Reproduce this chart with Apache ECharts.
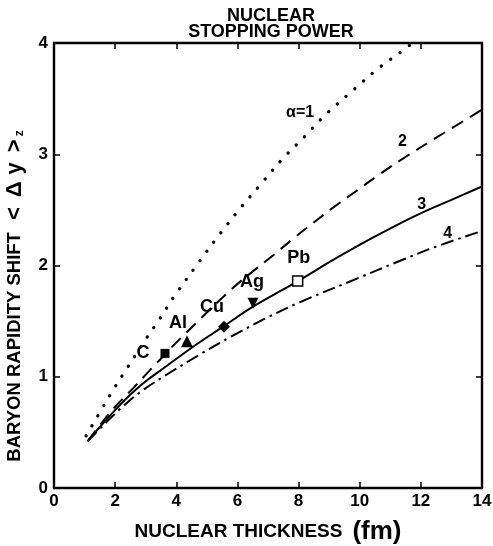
<!DOCTYPE html>
<html><head><meta charset="utf-8">
<script src="https://cdn.jsdelivr.net/npm/echarts@6/dist/echarts.min.js"></script>
<style>html,body{margin:0;padding:0;background:#fff}#c{width:493px;height:546px}</style>
</head><body><div id="c"></div>
<script>
// Curves: baryon rapidity shift vs nuclear thickness for alpha = 1..4
const alpha1X = [1.05, 1.67, 1.93, 2.42, 2.91, 3.43, 3.95, 4.74, 5.39, 6.11, 6.73, 7.48, 8.2, 8.86, 9.8, 10.65, 11.4, 11.73];
const alpha1Y = [0.47, 0.76, 0.88, 1.09, 1.30, 1.51, 1.73, 2.03, 2.27, 2.52, 2.72, 2.96, 3.16, 3.35, 3.58, 3.78, 3.93, 4.0];
const alpha2X = [1.1, 1.6, 2.0, 2.6, 3.14, 3.63, 3.9, 5.86, 7.16, 7.82, 8.37, 9.13, 9.89, 10.65, 11.52, 12.45, 14];
const alpha2Y = [0.42, 0.60, 0.73, 0.90, 1.06, 1.20, 1.28, 1.80, 2.09, 2.24, 2.36, 2.52, 2.67, 2.82, 2.98, 3.14, 3.40];
const alpha3X = [1.1, 1.6, 2.0, 2.5, 3.0, 3.5, 4.55, 5.53, 6.51, 7.98, 9.13, 10.43, 11.85, 13.0, 14];
const alpha3Y = [0.42, 0.58, 0.70, 0.84, 0.96, 1.06, 1.27, 1.45, 1.63, 1.86, 2.05, 2.25, 2.45, 2.59, 2.71];
const alpha4X = [1.1, 1.6, 2.16, 2.81, 3.69, 4.77, 5.85, 6.96, 8.04, 9.89, 11.3, 12.5, 14];
const alpha4Y = [0.42, 0.56, 0.71, 0.86, 1.02, 1.20, 1.37, 1.53, 1.67, 1.88, 2.04, 2.17, 2.31];
// Nuclei data points
const nuclei = ['C', 'Al', 'Cu', 'Ag', 'Pb'];
const nucleiX = [3.63, 4.35, 5.56, 6.51, 7.97];
const nucleiY = [1.21, 1.32, 1.45, 1.66, 1.86];
// Axis ticks
const xTicks = [0, 2, 4, 6, 8, 10, 12, 14];
const yTicks = [0, 1, 2, 3, 4];
// Curve labels
const curveLabels = ['α=1', '2', '3', '4'];

const zip = (a, b) => a.map((v, i) => [v, b[i]]);
const FONT = 'Liberation Sans';
const BLACK = '#000';

const symbols = ['rect', 'triangle', 'diamond', 'triangle', 'rect'];
const symRot = [0, 0, 0, 180, 0];
const symSize = [9, 12, 12, 11, 10];
const labelOffsets = [[-22, 0], [-9, -18], [-12, -20], [-1, -21], [1, -23]];

const nucleiData = nuclei.map((n, i) => ({
  name: n,
  value: [nucleiX[i], nucleiY[i]],
  symbol: symbols[i],
  symbolRotate: symRot[i],
  symbolSize: symSize[i],
  itemStyle: n === 'Pb' ? { color: '#fff', borderColor: BLACK, borderWidth: 1.5, opacity: 1 } : { color: BLACK, opacity: 1 },
  label: { show: true, formatter: n, offset: labelOffsets[i], position: 'inside' }
}));

const annotPos = [[8.05, 3.37], [11.4, 3.11], [12.03, 2.55], [12.88, 2.29]];
const annotData = curveLabels.map((t, i) => ({ value: annotPos[i], label: { formatter: t } }));

const axisCommon = {
  min: 0,
  axisLine: { show: true, onZero: false, lineStyle: { color: BLACK, width: 2.4 } },
  axisTick: { show: true, inside: true, length: 6, lineStyle: { color: BLACK, width: 1.5 } },
  splitLine: { show: false }
};

const lineCommon = { type: 'line', smooth: 0.35, showSymbol: false, silent: true };

const yNameTok = { fontFamily: FONT, fontWeight: 'bold', fontSize: 18.5, color: BLACK };
const symTok = (pl) => ({ fontFamily: FONT, fontWeight: 'bold', fontSize: 22, color: BLACK, padding: [0, 0, 0, pl] });

const chart = echarts.init(document.getElementById('c'), null, { renderer: 'canvas' });
chart.setOption({
  animation: false,
  backgroundColor: '#fff',
  textStyle: { fontFamily: FONT },
  grid: { left: 54, right: 11, top: 43, bottom: 58, containLabel: false, outerBoundsMode: 'none' },
  graphic: [
    {
      type: 'text', x: 271, y: 8,
      style: {
        text: 'NUCLEAR\nSTOPPING POWER', align: 'center', verticalAlign: 'top',
        font: 'bold 18px "' + FONT + '"', lineHeight: 16, fill: BLACK
      }
    },
    {
      type: 'text', x: 15, y: 296, rotation: Math.PI / 2,
      style: {
        text: '{a|BARYON RAPIDITY SHIFT}{lt|<}{d|Δ}{y|y}{gt|>}{s|z}',
        align: 'center', verticalAlign: 'middle',
        rich: {
          a: yNameTok,
          lt: symTok(12),
          d: symTok(10),
          y: symTok(7),
          gt: symTok(10),
          s: { fontFamily: FONT, fontWeight: 'bold', fontSize: 12, color: BLACK, padding: [10, 0, 0, 3] }
        }
      }
    }
  ],
  xAxis: [
    Object.assign({}, axisCommon, {
      type: 'value', position: 'bottom', max: 14, interval: 2,
      axisLabel: { color: BLACK, fontSize: 17, fontWeight: 'bold', fontFamily: FONT, margin: 5,
        formatter: v => xTicks.includes(v) ? String(v) : '' },
      name: '{a|NUCLEAR THICKNESS}   {b|(fm)}', nameLocation: 'middle', nameGap: 31,
      nameTextStyle: {
        rich: {
          a: { fontFamily: FONT, fontWeight: 'bold', fontSize: 19, color: BLACK },
          b: { fontFamily: FONT, fontWeight: 'bold', fontSize: 26, color: BLACK }
        }
      }
    }),
    Object.assign({}, axisCommon, {
      type: 'value', position: 'top', max: 14, interval: 2, axisLabel: { show: false }
    })
  ],
  yAxis: [
    Object.assign({}, axisCommon, {
      type: 'value', position: 'left', max: 4, interval: 1,
      axisLabel: { color: BLACK, fontSize: 17, fontWeight: 'bold', fontFamily: FONT, margin: 6,
        formatter: v => yTicks.includes(v) ? String(v) : '' }
    }),
    Object.assign({}, axisCommon, {
      type: 'value', position: 'right', max: 4, interval: 1, axisLabel: { show: false }
    })
  ],
  series: [
    Object.assign({}, lineCommon, { name: 'α=1', data: zip(alpha1X, alpha1Y),
      lineStyle: { color: BLACK, width: 3.3, type: [0.1, 11.5], cap: 'round' } }),
    Object.assign({}, lineCommon, { name: 'α=2', data: zip(alpha2X, alpha2Y),
      lineStyle: { color: BLACK, width: 2, type: [13, 8] } }),
    Object.assign({}, lineCommon, { name: 'α=3', data: zip(alpha3X, alpha3Y),
      lineStyle: { color: BLACK, width: 2, type: 'solid' } }),
    Object.assign({}, lineCommon, { name: 'α=4', data: zip(alpha4X, alpha4Y),
      lineStyle: { color: BLACK, width: 2, type: [13, 5, 2.5, 5] } }),
    { type: 'scatter', name: 'nuclei', data: nucleiData, z: 5, silent: true,
      itemStyle: { opacity: 1 },
      label: { color: BLACK, fontSize: 18, fontWeight: 'bold', fontFamily: FONT } },
    { type: 'scatter', name: 'labels', data: annotData, symbolSize: 0, z: 6, silent: true,
      itemStyle: { opacity: 1 },
      label: { show: true, position: 'inside', color: BLACK, fontSize: 16, fontWeight: 'bold', fontFamily: FONT } }
  ]
});
</script>
</body></html>
